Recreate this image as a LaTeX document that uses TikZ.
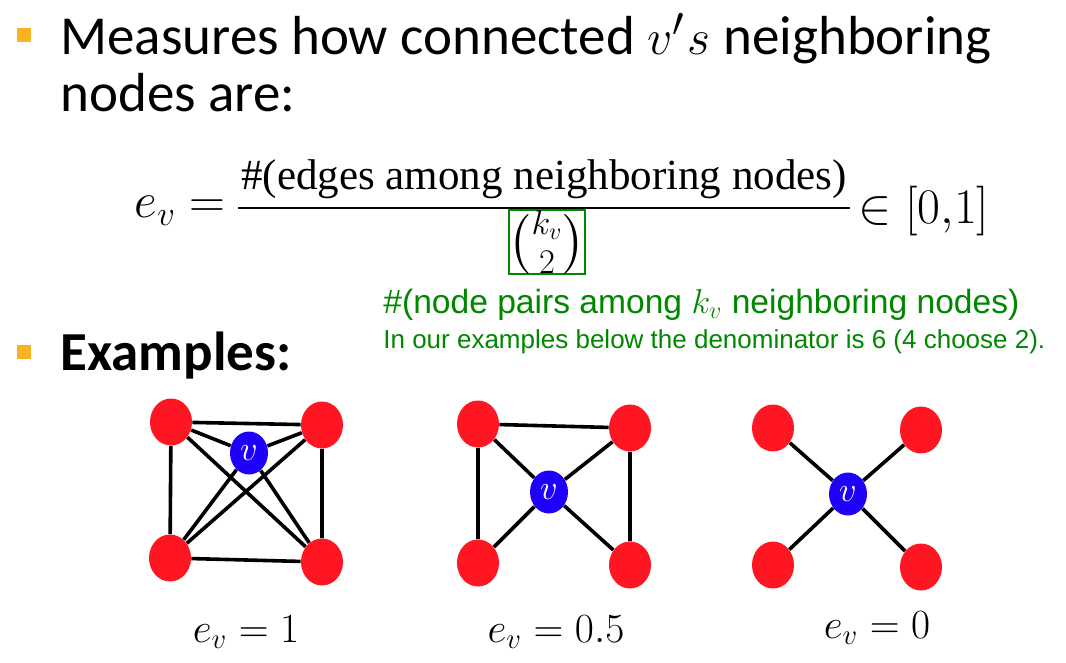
\documentclass[tikz,border=0pt]{standalone}
\usepackage{amsmath}
\usepackage{fontspec}
\setmainfont{Carlito}
\newfontfamily\arialf{Liberation Sans}
\newfontfamily\serf{Liberation Serif}
\usetikzlibrary{shapes.geometric}

\definecolor{bulletor}{RGB}{249,178,34}
\definecolor{nodered}{RGB}{255,22,34}
\definecolor{nodeblue}{RGB}{30,0,250}
\definecolor{eqgreen}{RGB}{0,135,0}

\tikzset{
	bul/.style={fill=bulletor, minimum size=7pt, inner sep=0pt},
	nb/.style={ellipse, fill=nodered, minimum width=21pt, minimum height=23.5pt, inner sep=0pt},
	nv/.style={ellipse, fill=nodeblue, minimum width=19pt, minimum height=21.5pt, inner sep=0pt, text=white, font=\fontsize{18}{18}\selectfont},
	ed/.style={line width=1.8pt, black},
	big/.style={font=\fontsize{27.5}{32}\selectfont, inner sep=0pt},
	grn/.style={text=eqgreen, inner sep=0pt},
	lab/.style={font=\fontsize{21.5}{26}\selectfont}
}

\begin{document}
\begin{tikzpicture}[x=0.5pt, y=-0.5pt]
	\useasboundingbox (0,0) rectangle (1066,663);

	\node [bul] (B1) at (24,35) {};
	\node [big, anchor=base west] (T1) at (60,55) {Measures how connected $v'\mkern1mu s$ neighboring};
	\node [big, anchor=base west] (T2) at (60,112) {nodes are:};

	\node [font=\fontsize{21.5}{24}\selectfont, anchor=base, inner sep=0pt] (num) at (544,190) {\serf\#(edges among neighboring nodes)};
	\coordinate (barL) at (238,208);
	\coordinate (barR) at (850,208);
	\draw [line width=1pt] (barL) -- (barR);
	\node [draw=eqgreen, line width=1pt, minimum width=34.5pt, minimum height=29pt, inner sep=0pt, font=\fontsize{25}{28}\selectfont] (den) at (547,242) {$\tbinom{k_v}{2}$};
	\node [font=\fontsize{23}{26}\selectfont, anchor=east, inner sep=0pt] (ev) at (226,211) {$e_v =$};
	\node [font=\fontsize{23}{26}\selectfont, anchor=west, inner sep=0pt] (in) at (858,211) {$\in [0{,}1]$};

	\node [grn, anchor=west, font=\arialf\fontsize{16.8}{19}\selectfont] (G1) at (383,305) {\#(node pairs among $k_v$ neighboring nodes)};
	\node [grn, anchor=west, font=\arialf\fontsize{13}{15}\selectfont] (G2) at (383,342) {In our examples below the denominator is 6 (4 choose 2).};

	\node [bul] (B2) at (24,352) {};
	\node [big, anchor=west, font=\bfseries\fontsize{27.5}{32}\selectfont] (T3) at (60,356) {Examples:};

	% first example: everything linked
	\node [nb] (a1) at (171,422) {};
	\node [nb] (a2) at (322,425) {};
	\node [nb] (a3) at (170,558) {};
	\node [nb] (a4) at (322,562) {};
	\node [nv] (av) at (249,453) {$v$};
	\draw [ed] (a1) -- (a2) (a1) -- (a3) (a2) -- (a4) (a3) -- (a4)
		(a1) -- (a4) (a2) -- (a3)
		(a1) -- (av) (a2) -- (av) (a3) -- (av) (a4) -- (av);

	% second example
	\node [nb] (b1) at (478,424) {};
	\node [nb] (b2) at (630,428) {};
	\node [nb] (b3) at (478,563) {};
	\node [nb] (b4) at (630,565) {};
	\node [nv] (bv) at (549,492) {$v$};
	\draw [ed] (b1) -- (b2) (b1) -- (b3) (b2) -- (b4)
		(b1) -- (bv) (b2) -- (bv) (b3) -- (bv) (b4) -- (bv);

	% third example: a star
	\node [nb] (c1) at (773,428) {};
	\node [nb] (c2) at (921,430) {};
	\node [nb] (c3) at (773,565) {};
	\node [nb] (c4) at (921,567) {};
	\node [nv] (cv) at (848,494) {$v$};
	\draw [ed] (c1) -- (cv) (c2) -- (cv) (c3) -- (cv) (c4) -- (cv);

	\node [lab] (L1) at (246,632) {$e_v = 1$};
	\node [lab] (L2) at (556,632) {$e_v = 0.5$};
	\node [lab] (L3) at (877,628) {$e_v = 0$};
\end{tikzpicture}
\end{document}
